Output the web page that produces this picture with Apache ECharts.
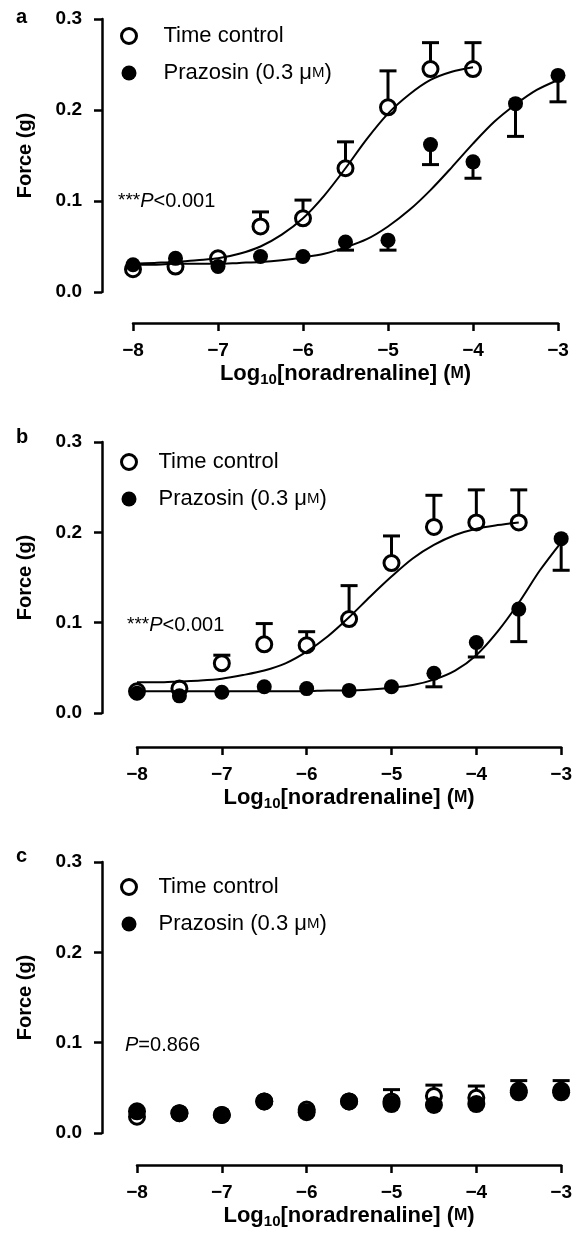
<!DOCTYPE html>
<html>
<head>
<meta charset="utf-8">
<script src="https://cdn.jsdelivr.net/npm/echarts@6/dist/echarts.min.js"></script>
<style>
html,body{margin:0;padding:0;background:#fff;}
#chart{width:575px;height:1242px;}
</style>
</head>
<body>
<div id="chart"></div>
<script>
// ---------- data ----------
const logX = [-8, -7.5, -7, -6.5, -6, -5.5, -5, -4.5, -4, -3.5, -3];
const curveX = [-8, -7.75, -7.5, -7.25, -7, -6.75, -6.5, -6.25, -6, -5.75, -5.5, -5.25, -5, -4.75, -4.5, -4.25, -4, -3.75, -3.5, -3.25, -3];
const xTicks = [-8, -7, -6, -5, -4, -3];
const yTicks = [0.0, 0.1, 0.2, 0.3];

// panel a
const aTimeMean = [0.025, 0.028, 0.037, 0.072, 0.081, 0.136, 0.203, 0.245, 0.245];
const aTimeSem  = [0, 0, 0, 0.016, 0.020, 0.029, 0.040, 0.029, 0.029];
const aPrazMean = [0.030, 0.037, 0.028, 0.039, 0.039, 0.055, 0.057, 0.162, 0.143, 0.207, 0.238];
const aPrazSem  = [0, 0, 0, 0, 0, 0.009, 0.011, 0.022, 0.018, 0.036, 0.029];
const aTimeFit  = [0.031, 0.032, 0.033, 0.035, 0.037, 0.042, 0.050, 0.063, 0.081, 0.106, 0.136, 0.168, 0.196, 0.217, 0.233, 0.242, 0.247];
const aPrazFit  = [0.030, 0.030, 0.031, 0.031, 0.031, 0.032, 0.033, 0.035, 0.038, 0.042, 0.049, 0.058, 0.072, 0.090, 0.112, 0.137, 0.163, 0.187, 0.206, 0.222, 0.233];

// panel b
const bTimeMean = [0.024, 0.027, 0.055, 0.076, 0.075, 0.104, 0.166, 0.206, 0.211, 0.211];
const bTimeSem  = [0, 0, 0.009, 0.023, 0.015, 0.037, 0.030, 0.035, 0.036, 0.036];
const bPrazMean = [0.022, 0.019, 0.023, 0.029, 0.027, 0.025, 0.029, 0.044, 0.078, 0.115, 0.193];
const bPrazSem  = [0, 0, 0, 0, 0, 0, 0, 0.015, 0.016, 0.036, 0.035];
const bTimeFit  = [0.034, 0.034, 0.035, 0.036, 0.038, 0.042, 0.047, 0.055, 0.068, 0.085, 0.106, 0.129, 0.151, 0.171, 0.186, 0.197, 0.204, 0.208, 0.211];
const bPrazFit  = [0.024, 0.024, 0.024, 0.024, 0.024, 0.024, 0.024, 0.024, 0.024, 0.025, 0.025, 0.026, 0.028, 0.031, 0.037, 0.047, 0.064, 0.090, 0.122, 0.158, 0.189];

// panel c
const cTimeMean = [0.018, 0.022, 0.020, 0.035, 0.026, 0.035, 0.035, 0.041, 0.039, 0.047, 0.047];
const cTimeSem  = [0, 0, 0, 0, 0, 0, 0.013, 0.012, 0.013, 0.011, 0.011];
const cPrazMean = [0.024, 0.022, 0.020, 0.035, 0.023, 0.035, 0.032, 0.031, 0.032, 0.045, 0.045];
const cPrazSem  = [0, 0, 0, 0, 0, 0, 0, 0, 0, 0, 0];

const TIME = 'Time control';
const PRAZ = 'Prazosin (0.3 μM)';
const panelLetters = ['a', 'b', 'c'];
const statTexts = ['{s|***}{i|P}{n|<0.001}', '{s|***}{i|P}{n|<0.001}', '{i|P}{n|=0.866}'];

// ---------- layout ----------
const FONT = '"Liberation Sans", Arial, Helvetica, sans-serif';
const grids = [
  {left: 133, right: 17, top: 19, height: 273},
  {left: 137, right: 12, top: 442, height: 271},
  {left: 137, right: 12, top: 862, height: 271}
];
const xOffsets = [31, 34, 32];
const yOffsets = [31, 35, 35];
const filledSize = [15, 15, 18];
const legendPos = [{left: 120, top: 24, pad: 22}, {left: 120, top: 450, pad: 17}, {left: 120, top: 875, pad: 17}];
const letterPos = [[16, 17], [16, 437], [16, 856]];
const statPos = [[118, 201], [127, 625], [125, 1045]];

const panels = [
  {tm: aTimeMean, ts: aTimeSem, pm: aPrazMean, ps: aPrazSem, tf: aTimeFit, pf: aPrazFit},
  {tm: bTimeMean, ts: bTimeSem, pm: bPrazMean, ps: bPrazSem, tf: bTimeFit, pf: bPrazFit},
  {tm: cTimeMean, ts: cTimeSem, pm: cPrazMean, ps: cPrazSem, tf: null, pf: null}
];

function errSeries(i, means, sems, dir) {
  const data = [];
  means.forEach((m, j) => { if (sems[j] > 0) data.push([logX[j], m, m + dir * sems[j]]); });
  return {
    type: 'custom', xAxisIndex: i, yAxisIndex: i, z: 2, silent: true, clip: false,
    encode: {x: 0, y: [1, 2]},
    data: data,
    renderItem: function (params, api) {
      const p0 = api.coord([api.value(0), api.value(1)]);
      const p1 = api.coord([api.value(0), api.value(2)]);
      const half = 8.5;
      return {
        type: 'group',
        children: [
          {type: 'line', shape: {x1: p0[0], y1: p0[1], x2: p1[0], y2: p1[1]}, style: {stroke: '#000', lineWidth: 3}},
          {type: 'line', shape: {x1: p1[0] - half, y1: p1[1], x2: p1[0] + half, y2: p1[1]}, style: {stroke: '#000', lineWidth: 3}}
        ]
      };
    }
  };
}

const xAxes = [], yAxes = [], series = [], legends = [], graphics = [];
panels.forEach((p, i) => {
  xAxes.push({
    gridIndex: i, type: 'value', min: -8, max: -3, interval: 1, offset: xOffsets[i],
    axisLine: {show: true, onZero: false, lineStyle: {color: '#000', width: 2.5}},
    axisTick: {show: true, inside: false, length: 8, lineStyle: {color: '#000', width: 2.5}},
    axisLabel: {margin: 18, color: '#000', fontSize: 19, fontWeight: 'bold', fontFamily: FONT,
      formatter: v => (v < 0 ? '\u2212' + Math.abs(v) : String(v))},
    splitLine: {show: false},
    name: '{a|Log}{b|10}{a|[noradrenaline] (}{c|M}{a|)}',
    nameLocation: 'middle', nameGap: 38,
    nameTextStyle: {
      color: '#000', fontSize: 22, fontWeight: 'bold', fontFamily: FONT,
      rich: {
        a: {fontSize: 22, fontWeight: 'bold', fontFamily: FONT, color: '#000'},
        b: {fontSize: 15, fontWeight: 'bold', fontFamily: FONT, color: '#000', padding: [11, 0, 0, 0]},
        c: {fontSize: 16, fontWeight: 'bold', fontFamily: FONT, color: '#000'}
      }
    }
  });
  yAxes.push({
    gridIndex: i, type: 'value', min: 0, max: 0.3, interval: 0.1, offset: yOffsets[i],
    axisLine: {show: true, onZero: false, lineStyle: {color: '#000', width: 2.5}},
    axisTick: {show: true, inside: false, length: 8, lineStyle: {color: '#000', width: 2.5}},
    axisLabel: {margin: 20, color: '#000', fontSize: 19, fontWeight: 'bold', fontFamily: FONT,
      formatter: v => v.toFixed(1)},
    splitLine: {show: false},
    name: 'Force (g)', nameLocation: 'middle', nameGap: 67, nameRotate: 90,
    nameTextStyle: {color: '#000', fontSize: 20, fontWeight: 'bold', fontFamily: FONT}
  });

  series.push(errSeries(i, p.tm, p.ts, 1));
  series.push(errSeries(i, p.pm, p.ps, -1));
  series.push({
    type: 'scatter', name: TIME, xAxisIndex: i, yAxisIndex: i, z: 3, silent: true, clip: false,
    symbol: 'circle', symbolSize: 15,
    itemStyle: {color: '#fff', borderColor: '#000', borderWidth: 3, opacity: 1},
    data: p.tm.map((m, j) => [logX[j], m])
  });
  if (p.tf) {
    series.push({
      type: 'line', name: 'fit-time', xAxisIndex: i, yAxisIndex: i, z: 4, silent: true, clip: false,
      symbol: 'none', showSymbol: false, smooth: 0.3,
      lineStyle: {color: '#000', width: 2},
      data: p.tf.map((v, j) => [curveX[j], v])
    });
  }
  if (p.pf) {
    series.push({
      type: 'line', name: 'fit-praz', xAxisIndex: i, yAxisIndex: i, z: 4, silent: true, clip: false,
      symbol: 'none', showSymbol: false, smooth: 0.3,
      lineStyle: {color: '#000', width: 2},
      data: p.pf.map((v, j) => [curveX[j], v])
    });
  }
  series.push({
    type: 'scatter', name: PRAZ, xAxisIndex: i, yAxisIndex: i, z: 5, silent: true, clip: false,
    symbol: 'circle', symbolSize: filledSize[i],
    itemStyle: {color: '#000', opacity: 1},
    data: p.pm.map((m, j) => [logX[j], m])
  });

  const lp = legendPos[i];
  legends.push({
    orient: 'vertical', left: lp.left, top: lp.top, padding: 0, itemGap: 13,
    itemWidth: 15, itemHeight: 15, selectedMode: false,
    textStyle: {color: '#000', fontSize: 22, fontFamily: FONT, lineHeight: 24,
      rich: {
        t: {fontSize: 22, fontFamily: FONT, color: '#000', padding: [0, 0, 0, lp.pad]},
        u: {fontSize: 22, fontFamily: FONT, color: '#000'},
        m: {fontSize: 15, fontFamily: FONT, color: '#000'}
      }},
    formatter: n => (n === PRAZ ? '{t|Prazosin (0.3 }{u|μ}{m|M}{u|)}' : '{t|' + n + '}'),
    data: [
      {name: TIME, icon: 'circle', itemStyle: {color: '#fff', borderColor: '#000', borderWidth: 3}},
      {name: PRAZ, icon: 'circle', itemStyle: {color: '#000', borderWidth: 0}}
    ]
  });

  graphics.push({
    type: 'text', x: letterPos[i][0], y: letterPos[i][1],
    style: {text: panelLetters[i], fill: '#000', fontSize: 20, fontWeight: 'bold', fontFamily: FONT,
      align: 'left', verticalAlign: 'middle'}
  });
  graphics.push({
    type: 'text', x: statPos[i][0], y: statPos[i][1],
    style: {
      text: statTexts[i], fill: '#000', fontSize: 20, fontFamily: FONT, align: 'left', verticalAlign: 'middle',
      rich: {
        s: {fontSize: 19, fontFamily: FONT, fill: '#000', lineHeight: 22},
        i: {fontSize: 20, fontStyle: 'italic', fontFamily: FONT, fill: '#000', lineHeight: 22},
        n: {fontSize: 20, fontFamily: FONT, fill: '#000', lineHeight: 22}
      }
    }
  });
});

const chart = echarts.init(document.getElementById('chart'), null, {renderer: 'canvas'});
chart.setOption({
  backgroundColor: '#fff',
  animation: false,
  grid: grids,
  xAxis: xAxes,
  yAxis: yAxes,
  legend: legends,
  graphic: graphics,
  series: series
});
</script>
</body>
</html>
